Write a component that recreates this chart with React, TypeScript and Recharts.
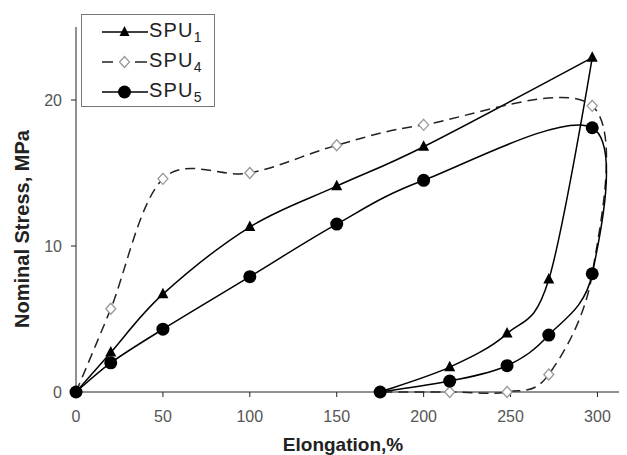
import React from 'react';
import { LineChart, Line, XAxis, YAxis, Label } from 'recharts';

// loading then unloading branch, in drawing order
const spu1X = [0, 20, 50, 100, 150, 200, 297, 272, 248, 215, 175];
const spu1Y = [0, 2.7, 6.7, 11.3, 14.1, 16.8, 22.9, 7.7, 4.0, 1.7, 0];

const spu4X = [0, 20, 50, 100, 150, 200, 297, 297, 272, 248, 215, 175];
const spu4Y = [0, 5.7, 14.6, 15.0, 16.9, 18.3, 19.6, 8.1, 1.2, 0, 0, 0];

const spu5X = [0, 20, 50, 100, 150, 200, 297, 297, 272, 248, 215, 175];
const spu5Y = [0, 2.0, 4.3, 7.9, 11.5, 14.5, 18.1, 8.1, 3.9, 1.8, 0.75, 0];

const xTicks = [0, 50, 100, 150, 200, 250, 300];
const yTicks = [0, 10, 20];

const toPoints = (xs: number[], ys: number[]) => xs.map((x, i) => ({ x, y: ys[i] }));

const FONT = '"Liberation Sans", Arial, sans-serif';

// Excel-like smoothed line: Catmull-Rom through each point, sharp turns kept as corners
function excelSmooth(context: any) {
  let pts: number[][] = [];
  return {
    areaStart() {},
    areaEnd() {},
    lineStart() {
      pts = [];
    },
    point(x: number, y: number) {
      pts.push([+x, +y]);
    },
    lineEnd() {
      const n = pts.length;
      if (!n) return;
      const sharp = pts.map((p, i) => {
        if (i === 0 || i === n - 1) return false;
        const a = pts[i - 1];
        const b = pts[i + 1];
        const ux = p[0] - a[0], uy = p[1] - a[1];
        const vx = b[0] - p[0], vy = b[1] - p[1];
        const len = Math.hypot(ux, uy) * Math.hypot(vx, vy) || 1;
        return (ux * vx + uy * vy) / len < -0.5;
      });
      const tangent = (i: number) => {
        if (sharp[i]) return [0, 0];
        const a = pts[Math.max(0, i - 1)];
        const b = pts[Math.min(n - 1, i + 1)];
        return [(b[0] - a[0]) / 6, (b[1] - a[1]) / 6];
      };
      context.moveTo(pts[0][0], pts[0][1]);
      for (let i = 0; i < n - 1; i++) {
        const t1 = tangent(i);
        const t2 = tangent(i + 1);
        context.bezierCurveTo(
          pts[i][0] + t1[0], pts[i][1] + t1[1],
          pts[i + 1][0] - t2[0], pts[i + 1][1] - t2[1],
          pts[i + 1][0], pts[i + 1][1]
        );
      }
    },
  };
}

const TriangleDot = (props: any) => {
  const { cx, cy, index } = props;
  if (cx == null || cy == null) return <g key={index} />;
  return (
    <polygon
      key={index}
      points={`${cx},${cy - 6.5} ${cx - 5.5},${cy + 4} ${cx + 5.5},${cy + 4}`}
      fill="#000"
    />
  );
};

const DiamondDot = (props: any) => {
  const { cx, cy, index } = props;
  if (cx == null || cy == null) return <g key={index} />;
  return (
    <polygon
      key={index}
      points={`${cx},${cy - 5.5} ${cx + 5},${cy} ${cx},${cy + 5.5} ${cx - 5},${cy}`}
      fill="#fff"
      stroke="#999"
      strokeWidth={1.3}
    />
  );
};

const CircleDot = (props: any) => {
  const { cx, cy, index } = props;
  if (cx == null || cy == null) return <g key={index} />;
  return <circle key={index} cx={cx} cy={cy} r={6.5} fill="#000" />;
};

const LegendRow = ({ kind, sub }: { kind: string; sub: string }) => (
  <div style={{ height: 30, display: 'flex', alignItems: 'center' }}>
    <svg width={48} height={30} style={{ marginLeft: 19, display: 'block' }}>
      {kind === 'dash' ? (
        <>
          <line x1={1} y1={15} x2={12} y2={15} stroke="#222" strokeWidth={1.5} />
          <line x1={34} y1={15} x2={46} y2={15} stroke="#222" strokeWidth={1.5} />
          <polygon points="23.5,9.5 28.5,15 23.5,20.5 18.5,15" fill="#fff" stroke="#999" strokeWidth={1.3} />
        </>
      ) : (
        <>
          <line x1={1} y1={15} x2={47} y2={15} stroke="#000" strokeWidth={1.5} />
          {kind === 'tri' ? (
            <polygon points="23.5,9 18.5,19 28.5,19" fill="#000" />
          ) : (
            <circle cx={23.5} cy={15} r={6.5} fill="#000" />
          )}
        </>
      )}
    </svg>
    <span style={{ fontFamily: FONT, fontSize: 20, letterSpacing: 1.2, color: '#222' }}>
      SPU<sub style={{ fontSize: 14, letterSpacing: 0, verticalAlign: -5 }}>{sub}</sub>
    </span>
  </div>
);

export default function App() {
  return (
    <div style={{ position: 'relative', width: 619, height: 447 }}>
      <LineChart width={619} height={447} margin={{ top: 19, right: 0, bottom: 0, left: 0 }}>
        <XAxis
          type="number"
          dataKey="x"
          domain={[0, 317]}
          ticks={xTicks}
          height={63}
          tickSize={5}
          tickMargin={14}
          stroke="#222"
          tick={{ fill: '#555', fontSize: 16, fontFamily: FONT }}
          allowDuplicatedCategory={false}
        >
          <Label
            content={() => (
              <text x={335} y={443} textAnchor="middle" fontFamily={FONT} fontSize={19} fontWeight="bold" fill="#222">
                Elongation,%
              </text>
            )}
          />
        </XAxis>
        <YAxis
          type="number"
          dataKey="y"
          domain={[0, 25]}
          ticks={yTicks}
          width={68}
          tickSize={5}
          tickMargin={9}
          stroke="#222"
          tick={{ fill: '#555', fontSize: 16, fontFamily: FONT }}
        >
          <Label
            content={() => (
              <text
                x={14}
                y={221}
                transform="rotate(-90 14 221)"
                textAnchor="middle"
                dominantBaseline="central"
                fontFamily={FONT}
                fontSize={20}
                fontWeight="bold"
                fill="#222"
              >
                Nominal Stress, MPa
              </text>
            )}
          />
        </YAxis>
        <Line
          data={toPoints(spu1X, spu1Y)}
          dataKey="y"
          type={excelSmooth as any}
          stroke="#000"
          strokeWidth={1.5}
          dot={TriangleDot}
          isAnimationActive={false}
        />
        <Line
          data={toPoints(spu4X, spu4Y)}
          dataKey="y"
          type={excelSmooth as any}
          stroke="#222"
          strokeWidth={1.5}
          strokeDasharray="10 6"
          dot={DiamondDot}
          isAnimationActive={false}
        />
        <Line
          data={toPoints(spu5X, spu5Y)}
          dataKey="y"
          type={excelSmooth as any}
          stroke="#000"
          strokeWidth={1.5}
          dot={CircleDot}
          isAnimationActive={false}
        />
      </LineChart>
      <div
        style={{
          position: 'absolute',
          left: 73,
          top: 6,
          width: 134,
          height: 93,
          boxSizing: 'border-box',
          border: '1px solid #777',
          background: '#fff',
          paddingTop: 2,
        }}
      >
        <LegendRow kind="tri" sub="1" />
        <LegendRow kind="dash" sub="4" />
        <LegendRow kind="circle" sub="5" />
      </div>
    </div>
  );
}
